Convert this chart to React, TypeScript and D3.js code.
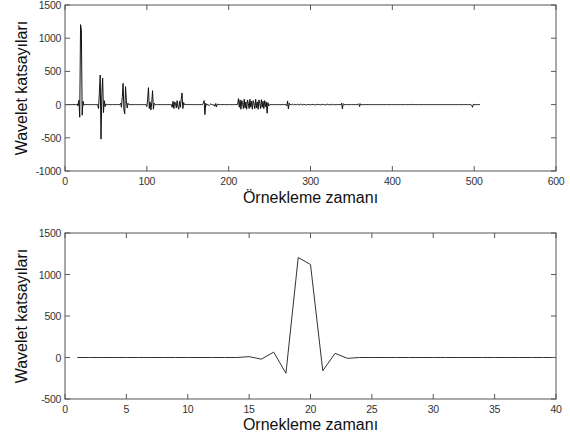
import React from "react";
import * as d3 from "d3";

// ---- DATA ----
// Signal length (samples 1..signalLength); samples not listed in a burst are 0.
const signalLength = 507;
const burstStarts = [15, 41, 68, 100, 131, 169, 176, 212, 271, 278, 338, 359, 423, 497];
const burstValues: number[][] = [
  [10, -20, 65, -190, 1205, 1120, -160, 50, -10],
  [-60, 180, 445, -520, 150, 400, -120, 60, -30, 10],
  [20, -40, 120, 320, -80, -140, 270, 60, -50, 20],
  [-30, 80, 255, -60, 40, -80, 30, 210, -70, 20],
  [-40, 50, -60, 40, 20, -50, 60, -30, -70, 50, -40, 80, 175, -60, 30],
  [20, 60, -150, 20, -10],
  [-15, 0, 10, 0, 0, -10, 0, -25, 15, -35, 10],
  [90, -40, 70, -70, 60, 30, -60, 80, -50, 40, -70, 70, 20, -60, 80, -40, 50, -70, 60, 10, -60, 80, -50, 40, -70, 70, 20, -60, 75, -40, 50, -60, 60, -30, 40, -130, 30, -20],
  [-20, 55, -65, 20],
  [6, -5, 0, 7, -4, 0, 5, 0, -6, 0, 6, 0, -5, 0, 4, 0, 0, -6, 0, 5, 0, 0, -4, 0, 0, 6, 0, 0, -5, 0, 0, 4, 0, 0, -5, 0, 0, 5, 0, 0, -4, 0, 0, 6, 0, 0, -5, 0, 0, 4, 0, 0, -3],
  [20, -65, 15],
  [15, -30, 10],
  [5],
  [-10, -40, 5],
];
const zoomLength = 40;

const topXTicks = [0, 100, 200, 300, 400, 500, 600];
const topYTicks = [-1000, -500, 0, 500, 1000, 1500];
const bottomXTicks = [0, 5, 10, 15, 20, 25, 30, 35, 40];
const bottomYTicks = [-500, 0, 500, 1000, 1500];
const xLabelTop = "Örnekleme zamanı";
const xLabelBottom = "Ornekleme zamanı";
const yLabel = "Wavelet katsayıları";

type Pt = { x: number; y: number };

function buildSignal(): Pt[] {
  const vals = new Map<number, number>();
  burstStarts.forEach((s, i) => burstValues[i].forEach((v, j) => vals.set(s + j, v)));
  return d3.range(1, signalLength + 1).map((x) => ({ x, y: vals.get(x) ?? 0 }));
}

const signal = buildSignal();
const zoomed = signal.filter((d) => d.x <= zoomLength);

const FONT = "'Liberation Sans', Arial, sans-serif";

function Panel(props: {
  data: Pt[];
  xDomain: [number, number];
  yDomain: [number, number];
  xTicks: number[];
  yTicks: number[];
  top: number;
  bottom: number;
  xLabel: string;
  xLabelY: number;
  lineColor: string;
}) {
  const left = 65;
  const right = 556;
  const x = d3.scaleLinear().domain(props.xDomain).range([left, right]);
  const y = d3.scaleLinear().domain(props.yDomain).range([props.bottom, props.top]);
  const line = d3
    .line<Pt>()
    .x((d) => x(d.x))
    .y((d) => y(d.y));
  const tl = 5;
  const axisColor = "#555";
  const midY = (props.top + props.bottom) / 2;
  return (
    <g>
      <rect x={left} y={props.top} width={right - left} height={props.bottom - props.top} fill="#fff" />
      <path d={line(props.data) || ""} fill="none" stroke={props.lineColor} strokeWidth={1} strokeLinejoin="round" />
      <rect x={left} y={props.top} width={right - left} height={props.bottom - props.top} fill="none" stroke={axisColor} strokeWidth={1} />
      {props.xTicks.map((t) => (
        <g key={"x" + t}>
          <line x1={x(t)} x2={x(t)} y1={props.bottom} y2={props.bottom - tl} stroke={axisColor} />
          <line x1={x(t)} x2={x(t)} y1={props.top} y2={props.top + tl} stroke={axisColor} />
          <text x={x(t)} y={props.bottom + 14} textAnchor="middle" fontSize={10.5} fill="#333" fontFamily={FONT} letterSpacing={-0.3}>
            {t}
          </text>
        </g>
      ))}
      {props.yTicks.map((t) => (
        <g key={"y" + t}>
          <line x1={left} x2={left + tl} y1={y(t)} y2={y(t)} stroke={axisColor} />
          <line x1={right} x2={right - tl} y1={y(t)} y2={y(t)} stroke={axisColor} />
          <text x={left - 4} y={y(t) + 4} textAnchor="end" fontSize={10.5} fill="#333" fontFamily={FONT} letterSpacing={-0.3}>
            {t}
          </text>
        </g>
      ))}
      <text x={(left + right) / 2} y={props.xLabelY} textAnchor="middle" fontSize={16} fill="#111" fontFamily={FONT}>
        {props.xLabel}
      </text>
      <text transform={`translate(27,${midY}) rotate(-90)`} textAnchor="middle" fontSize={16} fill="#111" fontFamily={FONT}>
        {yLabel}
      </text>
    </g>
  );
}

export default function App() {
  return (
    <svg width={570} height={439} style={{ position: "absolute", left: 0, top: 0, background: "#fff" }}>
      <rect width={570} height={439} fill="#fff" />
      <Panel
        data={signal}
        xDomain={[0, 600]}
        yDomain={[-1000, 1500]}
        xTicks={topXTicks}
        yTicks={topYTicks}
        top={5}
        bottom={171}
        xLabel={xLabelTop}
        xLabelY={203}
        lineColor="#111"
      />
      <Panel
        data={zoomed}
        xDomain={[0, 40]}
        yDomain={[-500, 1500]}
        xTicks={bottomXTicks}
        yTicks={bottomYTicks}
        top={233}
        bottom={399}
        xLabel={xLabelBottom}
        xLabelY={430}
        lineColor="#333"
      />
    </svg>
  );
}
